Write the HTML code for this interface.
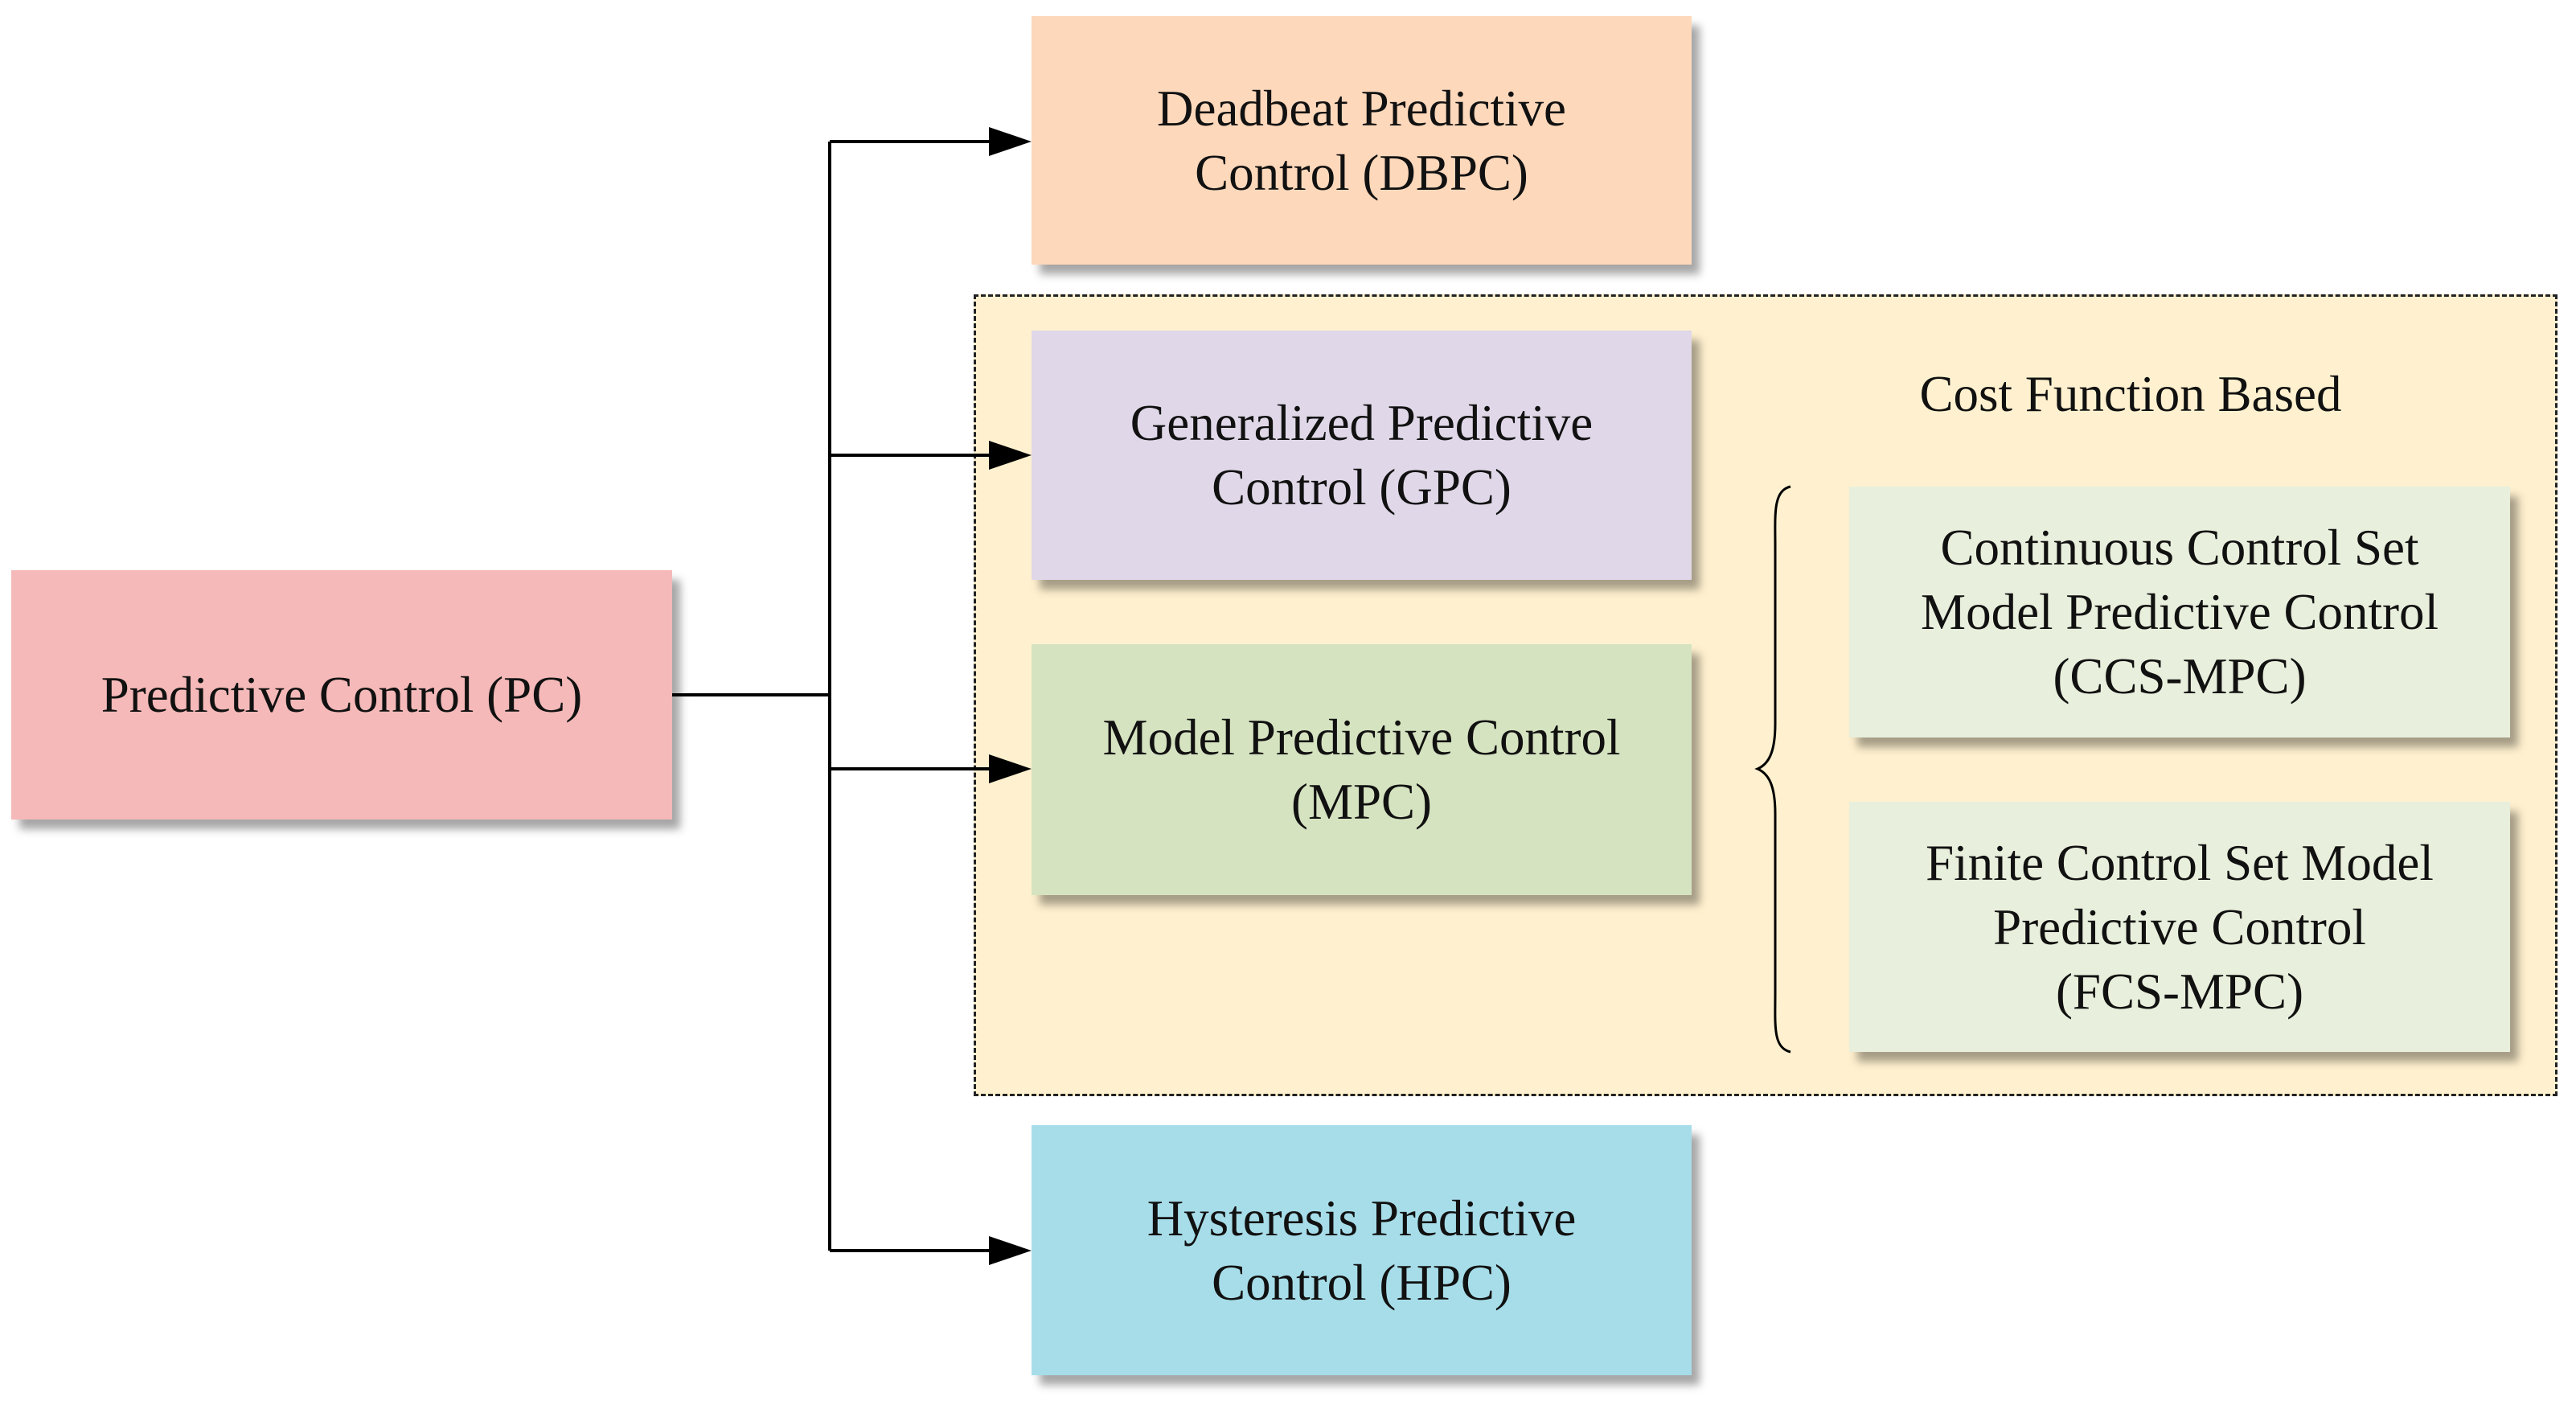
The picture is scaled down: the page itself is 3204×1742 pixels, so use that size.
<!DOCTYPE html>
<html><head><style>
body{margin:0;width:3204px;height:1742px;background:#fff;position:relative;overflow:hidden;font-family:"Liberation Serif",serif;}
.b{position:absolute;display:flex;align-items:center;justify-content:center;text-align:center;font-size:63px;line-height:80px;color:#111;box-shadow:10px 12px 10px rgba(0,0,0,0.35);}
</style></head><body>
<div style="position:absolute;left:1211px;top:366px;width:1970px;height:997px;background:#fff1cf;border:3px dashed #222;box-sizing:border-box;"></div>
<svg style="position:absolute;left:0;top:0" width="3204" height="1742">
<g stroke="#000" stroke-width="4" fill="none">
<line x1="836" y1="864" x2="1032" y2="864"/>
<line x1="1032" y1="176" x2="1032" y2="1555"/>
<line x1="1032" y1="176" x2="1240" y2="176"/>
<line x1="1032" y1="566" x2="1240" y2="566"/>
<line x1="1032" y1="956" x2="1240" y2="956"/>
<line x1="1032" y1="1555" x2="1240" y2="1555"/>
<path d="M2227,605 C2205,610 2208,640 2208,680 L2208,900 C2208,935 2200,950 2186,956 C2200,962 2208,977 2208,1012 L2208,1235 C2208,1275 2205,1303 2227,1308" stroke-width="3"/>
</g>
<g fill="#000">
<polygon points="1283,176 1230,158 1230,194"/>
<polygon points="1283,566 1230,548 1230,584"/>
<polygon points="1283,956 1230,938 1230,974"/>
<polygon points="1283,1555 1230,1537 1230,1573"/>
</g>
</svg>
<div class="b" style="left:14px;top:709px;width:822px;height:310px;background:#f4b9b8;">Predictive Control (PC)</div>
<div class="b" style="left:1283px;top:20px;width:821px;height:309px;background:#fdd8bb;">Deadbeat Predictive<br>Control (DBPC)</div>
<div class="b" style="left:1283px;top:411px;width:821px;height:310px;background:#e0d8e8;">Generalized Predictive<br>Control (GPC)</div>
<div class="b" style="left:1283px;top:801px;width:821px;height:312px;background:#d5e3c0;">Model Predictive Control<br>(MPC)</div>
<div class="b" style="left:1283px;top:1399px;width:821px;height:311px;background:#a7dde9;">Hysteresis Predictive<br>Control (HPC)</div>
<div class="b" style="left:2300px;top:605px;width:822px;height:312px;background:#e8efdc;">Continuous Control Set<br>Model Predictive Control<br>(CCS-MPC)</div>
<div class="b" style="left:2300px;top:997px;width:822px;height:311px;background:#e8efdc;">Finite Control Set Model<br>Predictive Control<br>(FCS-MPC)</div>
<div style="position:absolute;left:2250px;top:450px;width:800px;text-align:center;font-size:63px;line-height:80px;color:#111;">Cost Function Based</div>
</body></html>
